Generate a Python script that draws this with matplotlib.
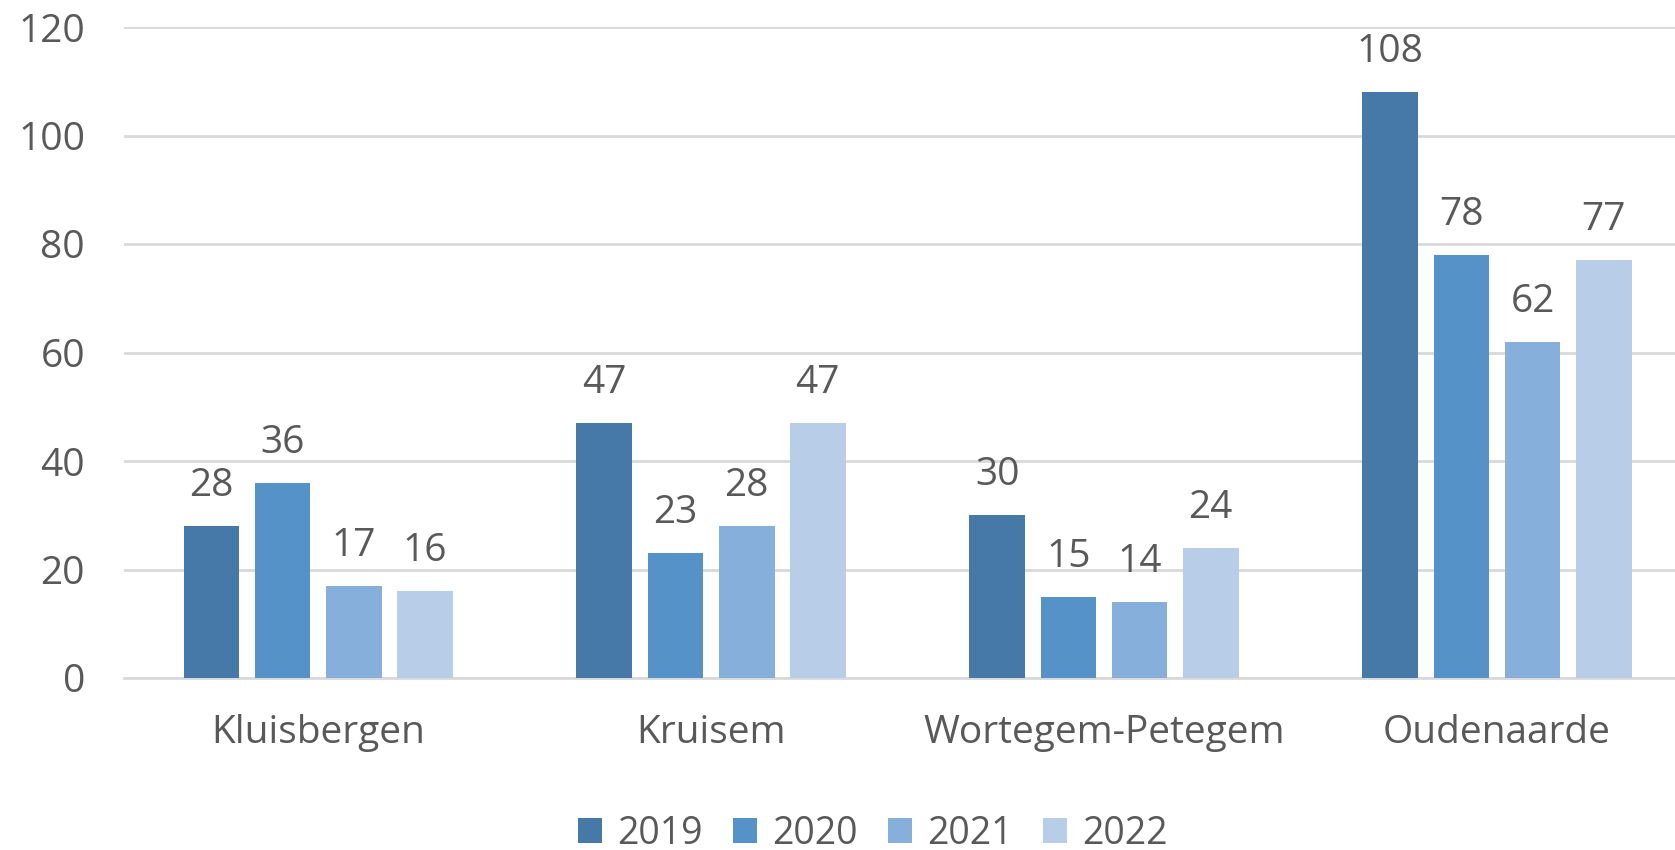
import matplotlib
matplotlib.use("Agg")
import matplotlib.pyplot as plt
import numpy as np

categories = ["Kluisbergen", "Kruisem", "Wortegem-Petegem", "Oudenaarde"]
years = ["2019", "2020", "2021", "2022"]
values = {
    "2019": [28, 47, 30, 108],
    "2020": [36, 23, 15, 78],
    "2021": [17, 28, 14, 62],
    "2022": [16, 47, 24, 77],
}
colors = ["#4678A8", "#5592C8", "#87AFDC", "#B8CDE8"]

plt.rcParams['font.family'] = ['Open Sans', 'DejaVu Sans']
txt = "#595959"
fs = 28

W, H = 1675, 850
fig = plt.figure(figsize=(W / 100, H / 100), dpi=100)
ax = fig.add_axes([124 / W, 1 - 678 / H, (1675 - 124) / W, 651 / H])

x = np.arange(len(categories))
pitch = 0.181
bw = 0.142
for j, y in enumerate(years):
    pos = x + (j - 1.5) * pitch
    bars = ax.bar(pos, values[y], width=bw, color=colors[j], label=y, zorder=3)
    for b, v in zip(bars, values[y]):
        ax.annotate(str(v), (b.get_x() + b.get_width() / 2, v), xytext=(0, 15),
                    textcoords="offset points", ha="center", va="bottom",
                    fontsize=fs, color=txt)

ax.set_xlim(-0.494, 3.453)
ax.set_ylim(0, 120)
ax.set_yticks(range(0, 121, 20))
ax.yaxis.grid(True, color="#D9D9D9", linewidth=2, zorder=0)
ax.set_axisbelow(True)
for s in ["top", "right", "left"]:
    ax.spines[s].set_visible(False)
ax.spines["bottom"].set_color("#D9D9D9")
ax.spines["bottom"].set_linewidth(2)
ax.tick_params(axis="both", length=0, labelsize=fs, colors=txt)
ax.tick_params(axis="y", pad=28)
ax.tick_params(axis="x", pad=26)
ax.set_xticks(x)
ax.set_xticklabels(categories)
for lab in ax.get_yticklabels():
    lab.set_color(txt)

leg = fig.legend(loc="center", bbox_to_anchor=(0.521, 1 - 834 / H), ncol=4, frameon=False,
                 fontsize=27, handlelength=0.65, handleheight=0.65, handletextpad=0.4,
                 columnspacing=0.8, labelcolor=txt)

fig.savefig("out.png", dpi=100)
